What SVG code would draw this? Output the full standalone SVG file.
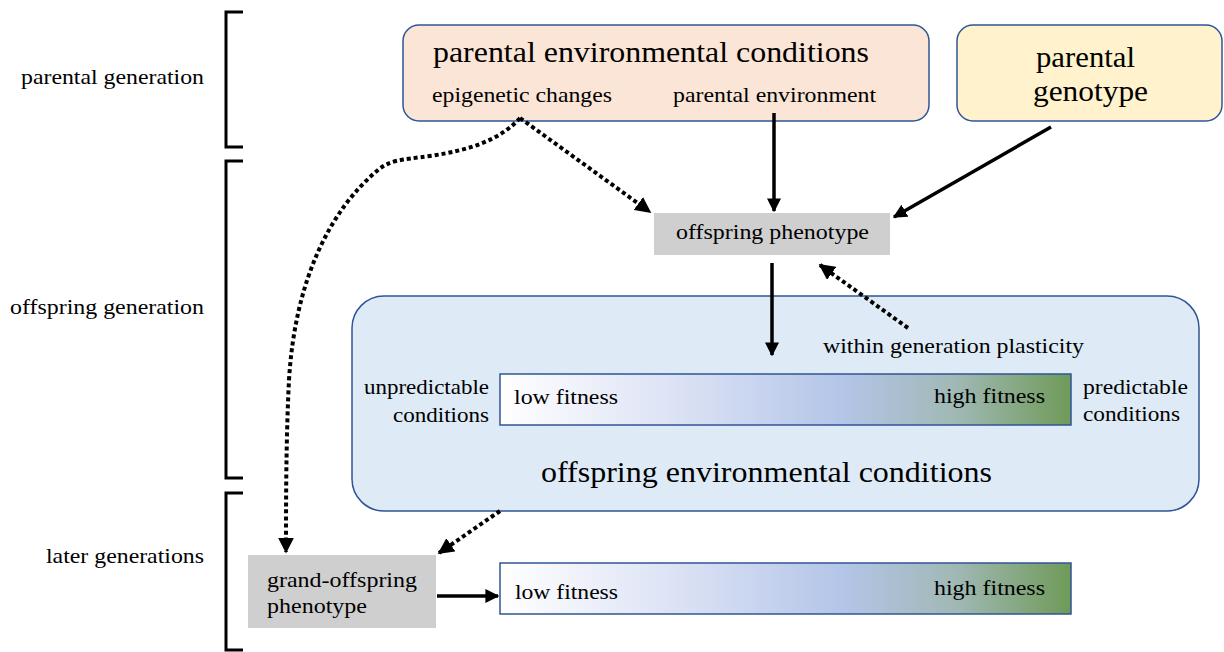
<svg xmlns="http://www.w3.org/2000/svg" width="1224" height="652" viewBox="0 0 1224 652" font-family="'Liberation Serif', 'DejaVu Serif', 'Times New Roman', serif">
<style>
text{font-family:'Liberation Serif','DejaVu Serif','Times New Roman',serif;fill:#000}
.big{font-size:29px}
.mid{font-size:21.5px}
.bracket{fill:none;stroke:#000;stroke-width:3}
.solid{fill:none;stroke:#000;stroke-width:3.5}
.dot{fill:none;stroke:#000;stroke-width:4;stroke-dasharray:4 3}
.box{stroke:#2f5597;stroke-width:1.5}
</style>
<defs>
<linearGradient id="fit" x1="0" x2="1" y1="0" y2="0">
<stop offset="0" stop-color="#ffffff"/>
<stop offset="0.3" stop-color="#dde3f5"/>
<stop offset="0.6" stop-color="#b4c5e8"/>
<stop offset="0.8" stop-color="#a0b8b4"/>
<stop offset="1" stop-color="#6f9a58"/>
</linearGradient>
<marker id="ah" viewBox="0 0 10 10" refX="9" refY="5" markerWidth="4" markerHeight="4" orient="auto" markerUnits="strokeWidth">
<path d="M0,0 L10,5 L0,10 z" fill="#000"/>
</marker>
<marker id="ahd" viewBox="0 0 10 10" refX="9" refY="5" markerWidth="4" markerHeight="4" orient="auto" markerUnits="strokeWidth">
<path d="M0,0 L10,5 L0,10 z" fill="#000"/>
</marker>
</defs>

<g id="brackets">
<path class="bracket" d="M243,12 H226 V147 H243"/>
<path class="bracket" d="M243,161 H226 V478 H243"/>
<path class="bracket" d="M243,493 H226 V650 H243"/>
</g>
<g id="labels-left" text-anchor="end">
<text class="mid" x="204" y="84" textLength="183" lengthAdjust="spacingAndGlyphs">parental generation</text>
<text class="mid" x="204" y="314" textLength="194" lengthAdjust="spacingAndGlyphs">offspring generation</text>
<text class="mid" x="204" y="563" textLength="158" lengthAdjust="spacingAndGlyphs">later generations</text>
</g>

<g id="parental-env">
<rect class="box" x="403" y="25" width="526" height="96" rx="16" fill="#fbe5d6"/>
<text class="big" x="433" y="62" textLength="436" lengthAdjust="spacingAndGlyphs">parental environmental conditions</text>
<text class="mid" x="432" y="102" textLength="180" lengthAdjust="spacingAndGlyphs">epigenetic changes</text>
<text class="mid" x="673" y="102" textLength="203" lengthAdjust="spacingAndGlyphs">parental environment</text>
</g>

<g id="parental-genotype">
<rect class="box" x="957" y="25" width="265" height="96" rx="16" fill="#fff2cc"/>
<text class="big" x="1036" y="67" textLength="99" lengthAdjust="spacingAndGlyphs">parental</text>
<text class="big" x="1033" y="101" textLength="115" lengthAdjust="spacingAndGlyphs">genotype</text>
</g>

<g id="offspring-env">
<rect class="box" x="352" y="296" width="847" height="215" rx="32" fill="#deebf7"/>
<text class="big" x="541" y="482" textLength="451" lengthAdjust="spacingAndGlyphs">offspring environmental conditions</text>
<text class="mid" x="823" y="353" textLength="261" lengthAdjust="spacingAndGlyphs">within generation plasticity</text>
<text class="mid" x="489" y="394" text-anchor="end" textLength="125" lengthAdjust="spacingAndGlyphs">unpredictable</text>
<text class="mid" x="489" y="422" text-anchor="end" textLength="96" lengthAdjust="spacingAndGlyphs">conditions</text>
<text class="mid" x="1083" y="394" textLength="105" lengthAdjust="spacingAndGlyphs">predictable</text>
<text class="mid" x="1083" y="421" textLength="97" lengthAdjust="spacingAndGlyphs">conditions</text>
</g>

<g id="fitness-bar-1">
<rect class="box" x="500" y="374" width="571" height="51" fill="url(#fit)"/>
<text class="mid" x="514" y="404" textLength="104" lengthAdjust="spacingAndGlyphs">low fitness</text>
<text class="mid" x="934" y="403" textLength="111" lengthAdjust="spacingAndGlyphs">high fitness</text>
</g>

<g id="offspring-phenotype">
<rect x="654" y="213" width="236" height="42" fill="#cfcfcf"/>
<text class="mid" x="676" y="239" textLength="193" lengthAdjust="spacingAndGlyphs">offspring phenotype</text>
</g>

<g id="grand-offspring">
<rect x="248" y="555" width="188" height="73" fill="#cfcfcf"/>
<text class="mid" x="267" y="587" textLength="150" lengthAdjust="spacingAndGlyphs">grand-offspring</text>
<text class="mid" x="267" y="613" textLength="100" lengthAdjust="spacingAndGlyphs">phenotype</text>
</g>

<g id="fitness-bar-2">
<rect class="box" x="500" y="563" width="571" height="51" fill="url(#fit)"/>
<text class="mid" x="515" y="599" textLength="103" lengthAdjust="spacingAndGlyphs">low fitness</text>
<text class="mid" x="934" y="595" textLength="111" lengthAdjust="spacingAndGlyphs">high fitness</text>
</g>

<g id="connectors">
<path class="solid" d="M774,113 V211" marker-end="url(#ah)"/>
<path class="solid" d="M1051,127 L894,217" marker-end="url(#ah)"/>
<path class="solid" d="M772,263 V355" marker-end="url(#ah)"/>
<path class="solid" d="M437,596 H498" marker-end="url(#ah)"/>
<path class="dot" d="M520,118 L650,212" marker-end="url(#ahd)"/>
<path class="dot" d="M908,328 L820,265" marker-end="url(#ahd)"/>
<path class="dot" d="M500,511 L439,553" marker-end="url(#ahd)"/>
<path class="dot" d="M520,118 C500,140 470,150 430,156 C400,160 390,160 378,170 C330,210 295,280 289,380 C286,440 286,500 286,552" marker-end="url(#ahd)"/>
</g>
</svg>
